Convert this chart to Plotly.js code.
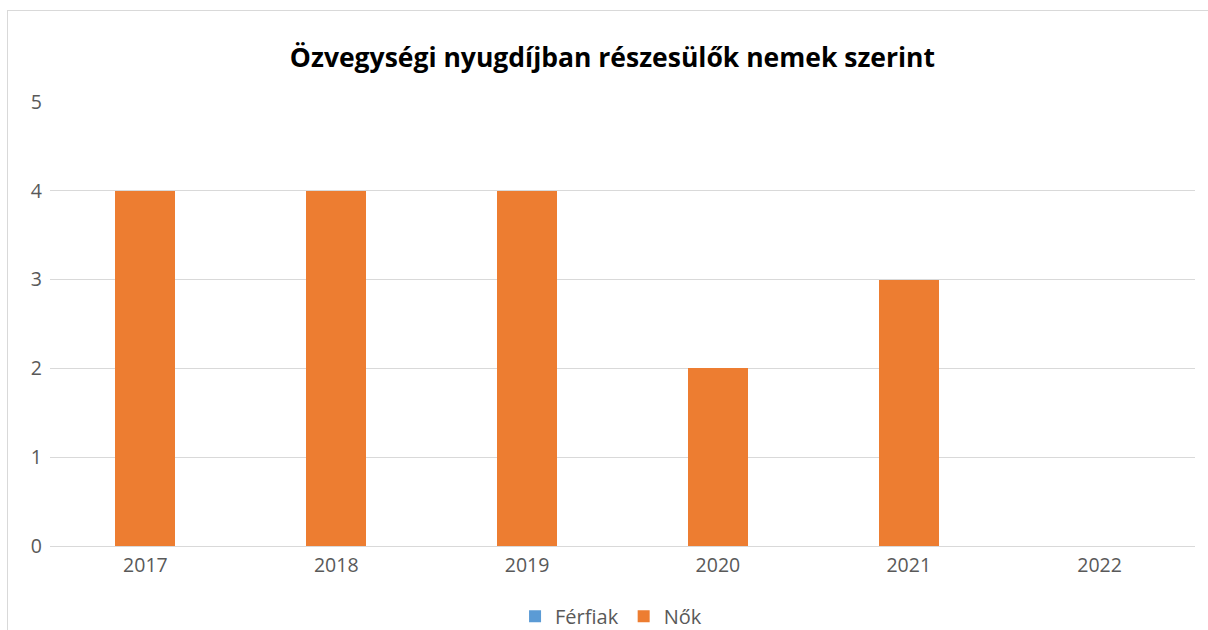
<!DOCTYPE html>
<html>
<head>
<meta charset="utf-8">
<script src="https://cdn.plot.ly/plotly-3.0.1.min.js"></script>
<style>
  html, body { margin: 0; padding: 0; background: #fff; }
  #chart { position: absolute; left: 0; top: 0; width: 1208px; height: 630px; }
  #frame { position: absolute; left: 7px; top: 10px; width: 1220px; height: 640px;
           border: 1px solid #d9d9d9; pointer-events: none; box-sizing: border-box; }
</style>
</head>
<body>
<div id="chart"></div>
<div id="frame"></div>
<script>
const categories = ["2017", "2018", "2019", "2020", "2021", "2022"];
const ferfiak = [0, 0, 0, 0, 0, 0];
const nok = [4, 4, 4, 2, 3, 0];
const seriesNames = ["Férfiak", "Nők"];
const titleText = "Özvegységi nyugdíjban részesülők nemek szerint";

const traces = [
  { type: "bar", name: seriesNames[0], x: categories, y: ferfiak,
    marker: { color: "#5b9bd5" }, hoverinfo: "x+y+name" },
  { type: "bar", name: seriesNames[1], x: categories, y: nok,
    marker: { color: "#ed7d31" }, hoverinfo: "x+y+name" }
];

const layout = {
  width: 1208, height: 630,
  margin: { l: 50, r: 13, t: 102, b: 84 },
  paper_bgcolor: "#ffffff", plot_bgcolor: "#ffffff",
  barmode: "stack",
  bargap: 0.686,
  showlegend: true,
  title: { text: "<b>" + titleText + "</b>", x: 0.507, xanchor: "center",
           y: 0.909, yanchor: "middle",
           font: { family: "Open Sans, sans-serif", size: 26.5, color: "#000000" } },
  xaxis: { type: "category", showgrid: false, showline: false, zeroline: false,
           ticks: "", ticklabelstandoff: 5,
           tickfont: { family: "Open Sans, sans-serif", size: 19.5, color: "#595959" } },
  yaxis: { range: [0, 5], dtick: 1, showgrid: true, gridcolor: "#d9d9d9", gridwidth: 1,
           zeroline: true, zerolinecolor: "#d9d9d9", zerolinewidth: 1, showline: false,
           ticks: "", ticklabelstandoff: 7,
           tickfont: { family: "Open Sans, sans-serif", size: 19.5, color: "#595959" } },
  legend: { orientation: "h", x: 0.49, xanchor: "center",
            yref: "container", y: 0.022, yanchor: "middle",
            traceorder: "normal",
            font: { family: "Open Sans, sans-serif", size: 20, color: "#595959" },
            itemwidth: 30, tracegroupgap: 0 }
};

Plotly.newPlot("chart", traces, layout, { displayModeBar: false, responsive: false });
</script>
</body>
</html>
